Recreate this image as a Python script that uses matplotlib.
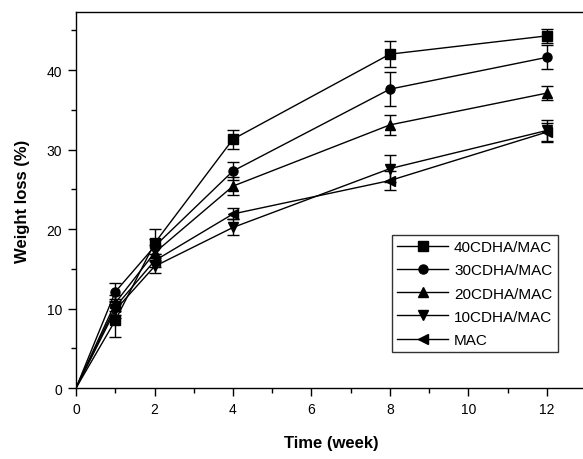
import matplotlib
matplotlib.use("Agg")
import matplotlib.pyplot as plt
from matplotlib.lines import Line2D

plt.rcParams['font.family'] = ['Liberation Sans', 'DejaVu Sans']

# Data
weeks = [0, 1, 2, 4, 8, 12]

labels = ['40CDHA/MAC', '30CDHA/MAC', '20CDHA/MAC', '10CDHA/MAC', 'MAC']
markers = ['s', 'o', '^', 'v', '<']

cdha40 = [0, 8.5, 18.2, 31.3, 42.0, 44.3]
cdha40_err = [0, 2.1, 1.8, 1.2, 1.6, 0.9]

cdha30 = [0, 12.1, 17.8, 27.3, 37.6, 41.6]
cdha30_err = [0, 1.1, 1.0, 1.1, 2.1, 1.5]

cdha20 = [0, 10.7, 17.0, 25.4, 33.1, 37.1]
cdha20_err = [0, 1.0, 1.0, 1.1, 1.3, 0.9]

cdha10 = [0, 9.8, 15.3, 20.2, 27.6, 32.4]
cdha10_err = [0, 1.0, 0.8, 1.0, 1.7, 1.3]

mac = [0, 10.2, 16.0, 21.9, 26.1, 32.2]
mac_err = [0, 1.0, 0.8, 0.7, 1.2, 1.2]

series = [(cdha40, cdha40_err), (cdha30, cdha30_err), (cdha20, cdha20_err),
          (cdha10, cdha10_err), (mac, mac_err)]

fig = plt.figure(figsize=(5.83, 4.6), dpi=100)
ax = fig.add_axes([0.1304, 0.1543, 0.875, 0.8174])

handles = []
for (vals, errs), lab, mk in zip(series, labels, markers):
    # line through all points, markers and error bars only from week 1 on
    ax.plot(weeks, vals, color='black', linewidth=1.0, marker=mk,
            markersize=6.5, markevery=list(range(1, len(weeks))))
    ax.errorbar(weeks[1:], vals[1:], yerr=errs[1:], fmt='none', ecolor='black',
                elinewidth=1.0, capsize=4.5, capthick=1.0)
    handles.append(Line2D([], [], color='black', linewidth=1.0, marker=mk,
                          markersize=6.5, label=lab))

ax.set_xlim(0, 13)
ax.set_ylim(0, 47.3)
ax.set_xticks([0, 2, 4, 6, 8, 10, 12])
ax.set_xticks([1, 3, 5, 7, 9, 11], minor=True)
ax.set_yticks([0, 10, 20, 30, 40])
ax.set_yticks([5, 15, 25, 35, 45], minor=True)

ax.tick_params(which='major', direction='out', length=6, width=1.0,
               labelsize=10, pad=4)
ax.tick_params(which='minor', direction='out', length=3.5, width=1.0)
for side in ['left', 'bottom', 'top', 'right']:
    ax.spines[side].set_linewidth(1.0)

ax.set_xlabel('Time (week)', fontsize=12, fontweight='bold', labelpad=14)
ax.set_ylabel('Weight loss (%)', fontsize=12, fontweight='bold', labelpad=12)

# Legend in lower right with a square black frame
leg = ax.legend(handles=handles, loc='lower right',
                bbox_to_anchor=(0.944, 0.095),
                fontsize=11, frameon=True, fancybox=False, edgecolor='black',
                handlelength=3.3, labelspacing=0.6, borderpad=0.35,
                handletextpad=0.4, borderaxespad=0)
leg.get_frame().set_linewidth(1.0)

fig.savefig('out.png', dpi=100)
